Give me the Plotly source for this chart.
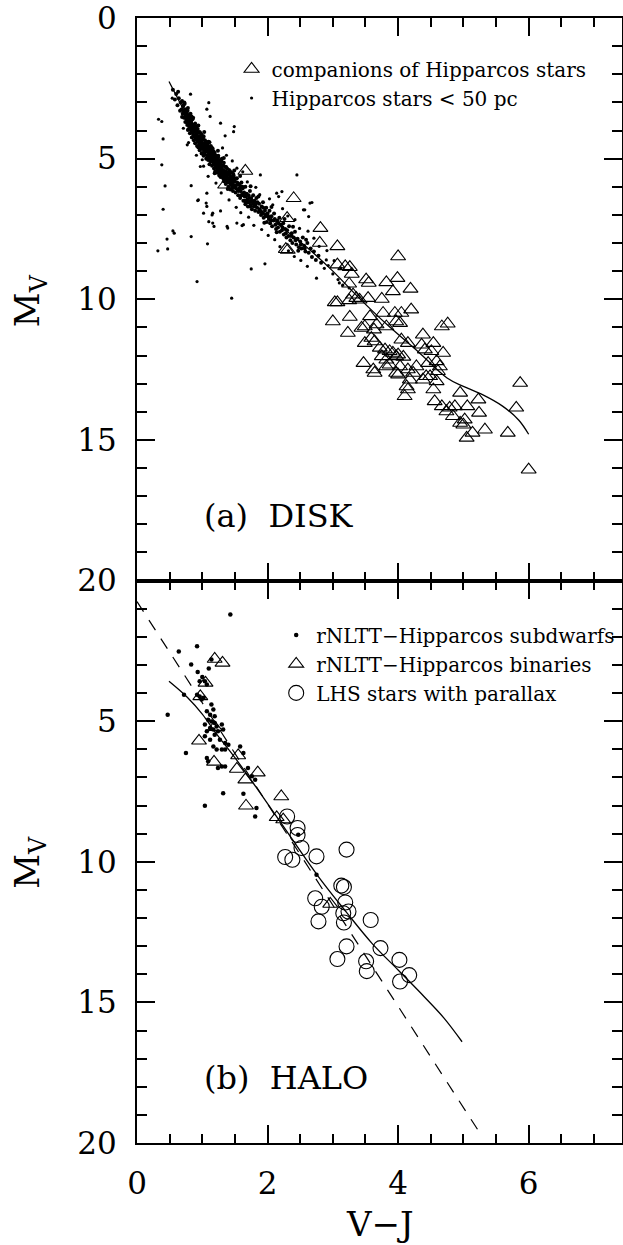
import plotly.graph_objects as go

# ---------------------------------------------------------------------------
#  (a) DISK — Hipparcos stars < 50 pc, companions, fitted relation
# ---------------------------------------------------------------------------
# dense main-sequence band
hip_core = [
    (0.55, 2.55), (0.58, 2.9), (0.60, 2.7), (0.62, 3.1), (0.64, 2.85), (0.66, 3.3),
    (0.67, 3.0), (0.68, 3.25), (0.69, 2.95), (0.70, 3.4), (0.71, 3.1), (0.72, 3.55),
    (0.72, 3.3), (0.73, 3.05), (0.74, 3.45), (0.74, 3.7), (0.75, 3.25), (0.76, 3.6),
    (0.76, 3.35), (0.77, 3.8), (0.77, 3.5), (0.78, 3.65), (0.78, 3.2), (0.79, 3.95),
    (0.79, 3.45), (0.80, 3.75), (0.80, 3.55), (0.81, 4.1), (0.81, 3.85), (0.82, 3.4),
    (0.82, 3.65), (0.83, 4.0), (0.83, 3.7), (0.84, 3.9), (0.84, 4.25), (0.85, 3.6),
    (0.85, 3.95), (0.86, 4.15), (0.86, 3.8), (0.87, 4.05), (0.87, 4.35), (0.88, 3.9),
    (0.88, 4.2), (0.89, 3.75), (0.89, 4.45), (0.90, 4.0), (0.90, 4.15), (0.91, 4.3),
    (0.91, 3.9), (0.92, 4.55), (0.92, 4.1), (0.93, 4.25), (0.93, 3.95), (0.94, 4.4),
    (0.94, 4.6), (0.95, 4.2), (0.95, 4.35), (0.96, 4.05), (0.96, 4.7), (0.97, 4.5),
    (0.97, 4.25), (0.98, 4.4), (0.98, 4.65), (0.99, 4.15), (0.99, 4.55), (1.00, 4.3),
    (1.00, 4.8), (1.01, 4.45), (1.01, 4.6), (1.02, 4.2), (1.02, 4.9), (1.03, 4.5),
    (1.03, 4.7), (1.04, 4.35), (1.04, 4.85), (1.05, 4.55), (1.05, 4.65), (1.06, 4.4),
    (1.06, 5.0), (1.07, 4.75), (1.07, 4.6), (1.08, 4.9), (1.08, 4.5), (1.09, 4.7),
    (1.09, 5.05), (1.10, 4.8), (1.10, 4.6), (1.11, 4.95), (1.11, 5.2), (1.12, 4.7),
    (1.12, 4.85), (1.13, 5.1), (1.13, 4.55), (1.14, 5.0), (1.14, 4.75), (1.15, 5.25),
    (1.15, 4.9), (1.16, 5.05), (1.16, 4.65), (1.17, 5.15), (1.17, 4.85), (1.18, 5.35),
    (1.18, 5.0), (1.19, 4.8), (1.19, 5.2), (1.20, 5.45), (1.20, 5.05), (1.21, 4.9),
    (1.21, 5.3), (1.22, 5.15), (1.23, 5.5), (1.23, 5.0), (1.24, 5.25), (1.24, 4.95),
    (1.25, 5.4), (1.25, 5.1), (1.26, 5.6), (1.26, 5.3), (1.27, 5.05), (1.27, 5.45),
    (1.28, 5.2), (1.28, 5.65), (1.29, 5.35), (1.30, 5.0), (1.30, 5.55), (1.31, 5.25),
    (1.32, 5.7), (1.32, 5.4), (1.33, 5.15), (1.33, 5.8), (1.34, 5.5), (1.35, 5.3),
    (1.35, 5.65), (1.36, 5.9), (1.36, 5.45), (1.37, 5.6), (1.38, 5.35), (1.38, 5.8),
    (1.39, 5.55), (1.40, 6.0), (1.40, 5.7), (1.41, 5.4), (1.42, 5.85), (1.42, 5.6),
    (1.43, 6.1), (1.44, 5.75), (1.45, 5.5), (1.45, 5.95), (1.46, 5.7), (1.47, 6.15),
    (1.47, 5.85), (1.48, 5.6), (1.49, 6.0), (1.50, 5.8), (1.51, 6.2), (1.52, 5.95),
    (1.53, 5.7), (1.54, 6.1), (1.55, 6.3), (1.56, 5.9), (1.57, 6.05), (1.58, 6.4),
    (1.59, 6.15), (1.60, 5.85), (1.61, 6.3), (1.62, 6.05), (1.63, 6.5), (1.64, 6.2),
    (1.65, 6.35), (1.66, 6.0), (1.67, 6.55), (1.68, 6.25), (1.69, 6.45), (1.70, 6.7),
    (1.71, 6.3), (1.72, 6.55), (1.73, 6.15), (1.74, 6.65), (1.75, 6.4), (1.76, 6.8),
    (1.77, 6.55), (1.78, 6.3), (1.79, 6.7), (1.80, 6.5), (1.81, 6.85), (1.82, 6.6),
    (1.83, 6.4), (1.84, 6.75), (1.86, 6.9), (1.87, 6.6), (1.88, 6.8), (1.90, 7.0),
    (1.91, 6.7), (1.92, 6.95), (1.93, 6.55), (1.94, 7.1), (1.96, 6.85), (1.97, 7.05),
    (1.98, 6.75), (1.99, 7.25), (2.00, 6.95), (2.02, 7.15), (2.03, 6.85), (2.04, 7.3),
    (2.06, 7.05), (2.07, 7.4), (2.09, 7.2), (2.10, 6.95), (2.12, 7.35), (2.13, 7.5),
    (2.15, 7.2), (2.16, 7.45), (2.18, 7.1), (2.19, 7.6), (2.21, 7.35), (2.22, 7.55),
    (2.24, 7.3), (2.25, 7.7), (2.27, 7.5), (2.29, 7.8), (2.30, 7.55), (2.32, 7.75),
    (2.33, 7.4), (2.35, 7.9), (2.37, 7.65), (2.38, 8.0), (2.40, 7.8), (2.42, 7.6),
    (2.44, 8.05), (2.46, 7.85), (2.48, 8.15), (2.50, 7.95), (2.52, 8.2), (2.54, 7.8),
    (2.56, 8.1), (2.58, 8.3), (2.61, 8.0), (2.63, 8.35), (2.66, 8.2), (2.68, 8.5),
    (2.71, 8.3), (2.74, 8.6), (2.78, 8.45), (2.82, 8.7),
    (0.705, 3.15), (0.715, 3.35), (0.725, 3.0), (0.735, 3.25), (0.745, 3.55), (0.755, 3.4),
    (0.765, 3.7), (0.775, 3.3), (0.785, 3.55), (0.795, 3.8), (0.805, 3.6), (0.815, 3.95),
    (0.825, 3.75), (0.835, 3.5), (0.845, 4.05), (0.855, 3.8), (0.865, 3.95), (0.875, 4.2),
    (0.885, 4.0), (0.895, 4.3), (0.905, 3.85), (0.915, 4.15), (0.925, 4.4), (0.935, 4.05),
    (0.945, 4.25), (0.955, 4.5), (0.965, 4.3), (0.975, 4.1), (0.985, 4.55), (0.995, 4.35),
    (1.005, 4.65), (1.015, 4.25), (1.025, 4.55), (1.035, 4.8), (1.045, 4.45), (1.055, 4.7),
    (1.065, 4.5), (1.075, 4.9), (1.085, 4.65), (1.095, 4.4), (1.105, 4.95), (1.115, 4.7),
    (1.125, 5.0), (1.135, 4.85), (1.145, 4.6), (1.155, 5.1), (1.165, 4.95), (1.175, 4.75),
    (1.185, 5.2), (1.195, 4.95), (1.205, 5.25), (1.215, 5.05), (1.225, 5.35), (1.235, 5.2),
    (1.245, 4.9), (1.255, 5.3), (1.265, 5.15), (1.275, 5.55), (1.285, 5.3), (1.295, 5.1),
    (1.305, 5.45), (1.315, 5.6), (1.325, 5.25), (1.335, 5.45), (1.345, 5.7), (1.355, 5.55),
    (1.365, 5.3), (1.375, 5.75), (1.385, 5.5), (1.395, 5.85), (1.405, 5.55), (1.415, 5.75),
    (1.425, 5.45), (1.435, 5.9), (1.445, 5.65), (1.455, 6.05), (1.465, 5.8), (1.475, 5.55),
    (1.485, 5.95), (1.495, 5.7), (1.515, 6.05), (1.535, 5.85), (1.555, 6.15), (1.575, 5.95),
    (1.595, 6.3), (1.615, 6.0), (1.635, 6.25), (1.655, 6.5), (1.675, 6.3), (1.695, 6.55),
    (1.715, 6.4), (1.735, 6.7), (1.755, 6.5), (1.785, 6.6), (1.815, 6.7), (1.845, 6.55),
    (1.875, 6.85), (1.905, 6.9), (1.935, 6.75), (1.965, 7.0), (2.01, 7.05), (2.05, 7.2),
    (2.11, 7.15), (2.17, 7.3), (2.23, 7.45), (2.28, 7.65), (2.36, 7.75), (2.43, 7.9),
    (2.51, 8.05), (2.57, 8.2),
    (0.63, 2.62), (0.69, 3.52), (0.78, 3.98), (0.86, 3.55), (0.94, 3.82), (0.99, 4.82),
    (1.03, 4.05), (1.11, 4.42), (1.19, 5.52), (1.24, 4.72), (1.33, 4.98), (1.39, 6.08),
    (1.49, 5.42), (1.58, 5.62), (1.66, 6.62), (1.74, 5.98), (1.86, 6.35), (1.95, 7.28),
    (2.06, 6.72), (2.14, 7.62), (2.26, 7.15), (2.39, 7.42), (2.47, 8.28), (2.59, 7.88),
]
# looser halo and scattered field stars
hip_field = [
    (2.87, 8.9), (2.93, 8.8), (3.00, 9.1), (3.08, 9.3), (3.15, 9.5), (3.25, 9.6),
    (1.31, 4.62), (1.37, 4.88), (1.46, 5.08), (1.53, 5.34), (1.62, 5.47), (1.69, 5.83),
    (1.82, 6.02), (1.88, 6.28), (2.03, 6.43), (2.08, 6.64), (2.23, 6.78), (2.31, 7.04),
    (2.42, 7.17), (2.49, 7.48), (2.62, 7.58), (2.71, 7.83), (2.79, 8.12), (2.91, 8.27),
    (3.02, 8.63), (3.12, 8.88), (0.71, 3.92), (0.79, 4.43), (0.91, 4.88), (1.02, 5.27),
    (1.09, 5.63), (1.21, 5.87), (1.29, 6.22), (1.41, 6.47), (1.52, 6.73), (1.59, 6.92),
    (1.71, 7.08), (1.79, 7.37), (1.91, 7.52), (2.01, 7.73), (2.11, 7.88), (2.19, 8.13),
    (2.32, 8.28), (2.41, 8.48), (2.51, 8.62), (2.61, 8.83),
    (0.82, 2.71), (1.10, 3.01), (1.07, 3.24), (1.12, 3.5), (1.28, 3.74), (1.49, 3.86),
    (1.48, 4.04), (1.35, 4.19), (0.77, 4.51), (0.97, 5.28), (1.00, 5.04), (0.54, 2.85),
    (0.33, 3.6), (0.38, 3.68), (0.40, 4.3), (0.38, 5.22), (0.43, 5.97), (0.40, 6.8),
    (0.94, 6.47), (1.07, 6.7), (1.02, 6.94), (1.15, 7.0), (1.18, 7.41), (1.38, 7.41),
    (1.53, 7.29), (1.63, 7.35), (1.89, 5.58), (2.45, 5.58), (2.14, 6.23), (2.22, 6.17),
    (2.17, 6.35), (2.65, 6.58), (2.55, 6.82), (2.63, 7.06), (0.83, 5.96), (1.07, 6.23),
    (0.93, 6.49), (1.06, 6.58), (1.16, 6.94), (1.28, 6.86), (1.10, 7.24), (1.16, 7.29),
    (1.39, 7.47), (1.61, 7.38), (0.55, 7.57), (0.57, 7.65), (0.46, 7.86), (0.47, 8.21),
    (0.32, 8.28), (0.83, 7.77), (1.08, 8.03), (1.75, 8.92), (1.96, 8.74), (0.92, 9.37),
    (1.45, 9.96), (2.68, 6.56), (2.57, 6.82), (2.90, 8.6), (2.75, 9.25), (3.10, 9.42),
]
core_vj = [p[0] for p in hip_core]
core_mv = [p[1] for p in hip_core]
field_vj = [p[0] for p in hip_field]
field_mv = [p[1] for p in hip_field]

comp_stars = [
    (1.35, 5.93), (1.66, 5.44), (2.40, 6.41), (2.30, 7.12), (2.81, 7.47), (2.80, 8.0),
    (3.07, 8.12), (2.28, 8.22), (2.31, 8.25), (4.00, 8.48), (3.07, 8.77), (3.19, 8.83),
    (3.26, 8.86), (3.29, 9.1), (3.51, 9.3), (3.55, 9.42), (3.82, 9.4), (3.99, 9.25),
    (3.92, 9.72), (4.19, 9.63), (3.25, 9.45), (3.31, 9.84), (3.36, 9.96), (3.41, 10.02),
    (3.03, 10.11), (3.07, 10.11), (3.25, 10.04), (3.54, 9.96), (3.75, 9.99), (4.20, 10.37),
    (3.00, 10.79), (3.26, 10.63), (3.57, 10.61), (3.77, 10.49), (3.95, 10.49), (4.05, 10.49),
    (3.23, 11.2), (3.44, 11.02), (3.49, 10.97), (3.63, 11.08), (3.67, 10.9), (3.82, 10.97),
    (3.97, 10.79), (4.03, 10.85), (3.49, 11.56), (3.59, 11.38), (3.64, 11.5), (3.72, 11.73),
    (3.80, 11.79), (3.87, 11.85), (3.92, 11.91), (4.00, 11.97), (4.08, 12.05), (3.75, 12.03),
    (3.82, 12.15), (3.87, 12.33), (3.97, 12.03), (4.03, 12.39), (4.38, 11.26), (4.54, 11.56),
    (4.41, 11.79), (4.51, 11.85), (4.59, 12.21), (4.69, 11.91), (4.64, 12.39), (4.49, 12.74),
    (4.38, 12.86), (4.54, 13.21), (3.47, 12.27), (3.62, 12.5), (3.64, 12.62), (3.82, 12.39),
    (3.97, 12.62), (4.15, 12.5), (4.23, 12.62), (4.18, 12.86), (4.13, 13.1), (4.10, 13.45),
    (4.56, 13.63), (4.67, 13.81), (4.74, 13.99), (4.67, 10.97), (4.76, 10.87), (4.15, 11.56),
    (4.36, 11.62), (4.05, 11.44), (4.46, 12.27), (4.28, 12.39), (4.61, 12.56), (4.00, 12.68),
    (4.43, 12.74), (4.59, 12.92), (4.15, 13.21), (4.95, 13.33), (4.79, 13.86), (4.84, 14.16),
    (4.87, 13.81), (5.06, 13.81), (5.23, 13.57), (5.24, 14.04), (4.95, 14.4), (5.00, 14.46),
    (5.02, 14.28), (5.14, 14.75), (5.05, 14.93), (5.33, 14.64), (5.68, 14.75), (5.87, 12.98),
    (5.81, 13.86), (6.00, 16.06),
]
comp_vj = [p[0] for p in comp_stars]
comp_mv = [p[1] for p in comp_stars]

disk_fit_vj = [0.49, 0.70, 0.92, 1.15, 1.40, 1.73, 2.20, 2.65, 3.00, 3.40, 3.83, 4.30,
               4.75, 5.00, 5.30, 5.60, 5.85, 6.00]
disk_fit_mv = [2.26, 3.20, 4.20, 5.00, 5.75, 6.50, 7.40, 8.25, 9.00, 9.95, 10.90, 11.85,
               12.80, 13.10, 13.40, 13.80, 14.30, 14.80]

# ---------------------------------------------------------------------------
#  (b) HALO — subdwarfs, binaries, LHS stars, two relations
# ---------------------------------------------------------------------------
sub_stars = [
    (1.43, 1.21), (0.64, 2.52), (0.92, 2.34), (0.83, 2.99), (1.10, 3.13), (0.93, 3.25),
    (1.00, 3.43), (0.72, 4.06), (0.47, 4.77), (0.75, 6.13), (1.14, 2.81), (0.96, 3.58),
    (1.04, 3.58), (1.07, 3.7), (0.92, 4.06), (0.96, 4.12), (0.99, 4.23), (1.02, 4.17),
    (1.14, 4.41), (1.17, 4.59), (1.07, 4.65), (1.12, 4.77), (1.19, 4.83), (1.09, 4.95),
    (1.14, 5.01), (1.19, 5.07), (1.04, 5.12), (1.22, 5.19), (1.30, 5.12), (1.12, 5.24),
    (1.17, 5.3), (1.24, 5.36), (1.32, 5.3), (1.07, 5.36), (1.04, 5.54), (1.12, 5.66),
    (1.19, 5.48), (1.27, 5.66), (1.35, 5.78), (1.17, 5.9), (1.22, 6.01), (1.30, 6.01),
    (1.35, 6.01), (1.40, 5.84), (1.07, 6.31), (1.09, 6.43), (1.30, 6.61), (1.35, 6.61),
    (1.24, 6.67), (1.58, 5.9), (1.63, 6.13), (1.70, 6.67), (1.76, 6.96), (1.81, 7.08),
    (1.32, 7.56), (1.63, 7.58), (1.04, 8.01), (1.83, 8.09), (1.81, 8.39), (2.47, 9.04),
    (2.75, 10.46),
]
sub_vj = [p[0] for p in sub_stars]
sub_mv = [p[1] for p in sub_stars]

bin_stars = [
    (1.19, 2.79), (1.31, 2.93), (1.05, 3.64), (0.97, 4.12), (1.19, 5.22), (0.95, 5.7),
    (1.18, 6.45), (1.53, 6.7), (1.55, 6.22), (1.85, 6.83), (1.66, 7.08), (1.67, 8.01),
    (2.21, 7.68), (2.14, 8.42), (2.24, 8.5), (2.96, 11.5),
]
bin_vj = [p[0] for p in bin_stars]
bin_mv = [p[1] for p in bin_stars]

lhs_stars = [
    (2.30, 8.39), (2.46, 8.8), (2.46, 9.05), (2.52, 9.51), (2.27, 9.83), (2.38, 9.93),
    (2.75, 9.81), (3.21, 9.57), (3.13, 10.85), (3.17, 10.9), (2.73, 11.3), (2.83, 11.6),
    (3.19, 11.45), (3.16, 11.83), (3.24, 11.77), (2.78, 12.12), (3.17, 12.16), (3.58, 12.07),
    (3.21, 13.01), (3.07, 13.46), (3.51, 13.54), (3.52, 13.89), (3.73, 13.07), (4.02, 13.49),
    (4.03, 14.26), (4.17, 14.03),
]
lhs_vj = [p[0] for p in lhs_stars]
lhs_mv = [p[1] for p in lhs_stars]

halo_fit_vj = [0.49, 0.77, 1.00, 1.20, 1.50, 1.78, 2.20, 2.77, 3.21, 3.60, 4.00, 4.40,
               4.70, 4.98]
halo_fit_mv = [3.58, 4.15, 4.75, 5.40, 6.30, 7.20, 8.60, 10.50, 11.80, 12.90, 13.85, 14.80,
               15.55, 16.40]

halo_lin_vj = [0.0, 1.0, 2.0, 3.0, 4.0, 5.29]
halo_lin_mv = [0.75, 4.35, 7.95, 11.55, 15.15, 19.78]

FONT = "DejaVu Serif"
INK = "black"

fig = go.Figure()

# top panel
fig.add_trace(go.Scatter(
    x=core_vj, y=core_mv, mode="markers", name="Hipparcos stars < 50 pc",
    marker=dict(color=INK, size=4, line=dict(width=0)),
    xaxis="x", yaxis="y", legendgroup="hip", showlegend=False,
))
fig.add_trace(go.Scatter(
    x=field_vj, y=field_mv, mode="markers", name="Hipparcos stars < 50 pc",
    marker=dict(color=INK, size=3.2, line=dict(width=0)),
    xaxis="x", yaxis="y", legend="legend", legendgroup="hip", legendrank=2,
))
fig.add_trace(go.Scatter(
    x=disk_fit_vj, y=disk_fit_mv, mode="lines", line=dict(color=INK, width=1.3, shape="spline"),
    xaxis="x", yaxis="y", showlegend=False,
))
fig.add_trace(go.Scatter(
    x=comp_vj, y=comp_mv, mode="markers", name="companions of Hipparcos stars",
    marker=dict(symbol="triangle-up-open", color=INK, size=13, line=dict(width=1.1)),
    xaxis="x", yaxis="y", legend="legend", legendrank=1,
))

# bottom panel
fig.add_trace(go.Scatter(
    x=halo_lin_vj, y=halo_lin_mv, mode="lines", line=dict(color=INK, width=1.2, dash="12px,10px"),
    xaxis="x2", yaxis="y2", showlegend=False,
))
fig.add_trace(go.Scatter(
    x=halo_fit_vj, y=halo_fit_mv, mode="lines", line=dict(color=INK, width=1.3, shape="spline"),
    xaxis="x2", yaxis="y2", showlegend=False,
))
fig.add_trace(go.Scatter(
    x=sub_vj, y=sub_mv, mode="markers", name="rNLTT\u2212Hipparcos subdwarfs",
    marker=dict(color=INK, size=4.5, line=dict(width=0)),
    xaxis="x2", yaxis="y2", legend="legend2",
))
fig.add_trace(go.Scatter(
    x=bin_vj, y=bin_mv, mode="markers", name="rNLTT\u2212Hipparcos binaries",
    marker=dict(symbol="triangle-up-open", color=INK, size=13, line=dict(width=1.1)),
    xaxis="x2", yaxis="y2", legend="legend2",
))
fig.add_trace(go.Scatter(
    x=lhs_vj, y=lhs_mv, mode="markers", name="LHS stars with parallax",
    marker=dict(symbol="circle-open", color=INK, size=15, line=dict(width=1.1)),
    xaxis="x2", yaxis="y2", legend="legend2",
))

axis_common = dict(
    showline=True, linecolor=INK, linewidth=2, mirror="allticks",
    ticks="inside", ticklen=18, tickwidth=2, tickcolor=INK,
    showgrid=False, zeroline=False, ticklabeloverflow="allow", automargin=False,
    tickfont=dict(family=FONT, size=31, color=INK),
)
x_common = dict(axis_common, range=[0, 7.43], tickvals=[0, 2, 4, 6],
                minor=dict(dtick=0.5, ticks="inside", ticklen=9, tickwidth=2, tickcolor=INK))
y_common = dict(axis_common, range=[20, 0],
                minor=dict(dtick=1, ticks="inside", ticklen=10, tickwidth=2, tickcolor=INK))

legend_common = dict(
    bgcolor="rgba(0,0,0,0)", borderwidth=0, xanchor="left", yanchor="top",
    font=dict(family=FONT, size=20, color=INK), itemsizing="trace", tracegroupgap=0,
)

fig.update_layout(
    width=623, height=1245,
    margin=dict(l=137, r=1, t=18, b=102, autoexpand=False),
    paper_bgcolor="white", plot_bgcolor="white",
    xaxis=dict(x_common, domain=[0, 1], anchor="y", showticklabels=False),
    yaxis=dict(y_common, domain=[0.5, 1], anchor="x", tickvals=[0, 5, 10, 15, 20],
               ticklabelstandoff=12),
    xaxis2=dict(x_common, domain=[0, 1], anchor="y2", ticklabelstandoff=12),
    yaxis2=dict(y_common, domain=[0, 0.5], anchor="x2", tickvals=[5, 10, 15, 20],
                ticklabelstandoff=12),
    legend=dict(legend_common, x=0.195, y=0.972),
    legend2=dict(legend_common, x=0.287, y=0.469),
    showlegend=True,
)

label_font = dict(family=FONT, size=34, color=INK)
fig.add_annotation(text="V\u2212J", xref="paper", yref="paper", x=0.5, y=-0.072,
                   showarrow=False, font=label_font, xanchor="center", yanchor="middle")
for ypos in (0.749, 0.2498):
    fig.add_annotation(text="M<sub>V</sub>", xref="paper", yref="paper", x=-0.221, y=ypos,
                       showarrow=False, font=label_font, textangle=-90,
                       xanchor="center", yanchor="middle")

panel_font = dict(family=FONT, size=32, color=INK)
fig.add_annotation(text="(a)  DISK", xref="x", yref="y", x=1.0, y=17.7, showarrow=False,
                   font=panel_font, xanchor="left", yanchor="middle")
fig.add_annotation(text="(b)  HALO", xref="x2", yref="y2", x=1.0, y=17.7, showarrow=False,
                   font=panel_font, xanchor="left", yanchor="middle")

# drop the browser's default 8 px body margin so the figure sits at the page corner
fig.write_html("out.html", config={"displayModeBar": False},
               post_script="document.body.style.margin = '0';")
